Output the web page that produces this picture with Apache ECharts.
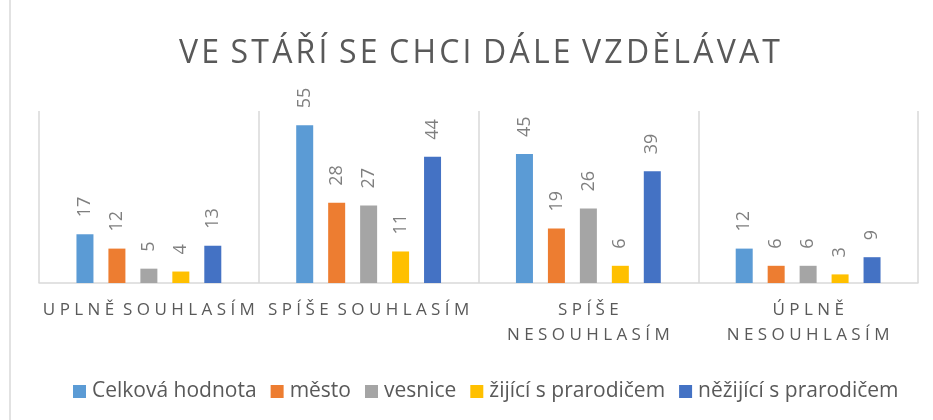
<!DOCTYPE html>
<html>
<head>
<meta charset="utf-8">
<script src="https://cdn.jsdelivr.net/npm/echarts@6/dist/echarts.min.js"></script>
<style>
html,body{margin:0;padding:0;background:#fff;}
#chart{width:933px;height:420px;}
</style>
</head>
<body>
<div id="chart"></div>
<script>
// data
var categories = ['UPLNĚ SOUHLASÍM', 'SPÍŠE SOUHLASÍM', 'SPÍŠE\nNESOUHLASÍM', 'ÚPLNĚ\nNESOUHLASÍM'];
var seriesNames = ['Celková hodnota', 'město', 'vesnice', 'žijící s prarodičem', 'něžijící s prarodičem'];
var celkova = [17, 55, 45, 12];
var mesto = [12, 28, 19, 6];
var vesnice = [5, 27, 26, 6];
var zijici = [4, 11, 6, 3];
var nezijici = [13, 44, 39, 9];
var colors = ['#5B9BD5', '#ED7D31', '#A5A5A5', '#FFC000', '#4472C4'];
var titleText = 'VE STÁŘÍ SE CHCI DÁLE VZDĚLÁVAT';

// roztažení písmen jako v Excelu
function spaced(txt, gap, wordGap){
	return txt.split('\n').map(function(line){
		return line.split(' ').map(function(w){
			return w.split('').join(gap);
		}).join(wordGap);
	}).join('\n');
}

var values = [celkova, mesto, vesnice, zijici, nezijici];
var series = [];
for(var i=0;i<values.length;i++){
	series.push({
		name: seriesNames[i],
		type: 'bar',
		data: values[i],
		barWidth: 17,
		barGap: '88%',
		itemStyle: {color: colors[i]},
		label: {
			show: true,
			position: 'top',
			rotate: 90,
			align: 'left',
			verticalAlign: 'middle',
			distance: 17,
			fontFamily: 'Open Sans',
			fontSize: 18,
			color: '#7f7f7f'
		}
	});
}

var myChart = echarts.init(document.getElementById('chart'));
var option = {
	animation: false,
	textStyle: {fontFamily: 'Open Sans'},
	title: {
		text: spaced(titleText, '\u200A', ' \u200A'),
		left: 174,
		top: 33,
		textStyle: {fontFamily: 'Open Sans', fontSize: 32, fontWeight: 'normal', color: '#595959'}
	},
	legend: {
		data: seriesNames,
		left: 68,
		top: 376,
		icon: 'rect',
		itemWidth: 13,
		itemHeight: 13,
		itemGap: 14,
		textStyle: {fontFamily: 'Open Sans', fontSize: 21, color: '#595959', padding: [0, 0, 0, 1]}
	},
	grid: {left: 39, right: 15, top: 111, bottom: 137},
	xAxis: {
		type: 'category',
		data: categories,
		axisTick: {show: false},
		axisLine: {lineStyle: {color: '#d9d9d9', width: 1.5}},
		splitLine: {show: true, lineStyle: {color: '#d9d9d9', width: 1.5}},
		axisLabel: {
			interval: 0,
			margin: 15,
			fontFamily: 'Open Sans',
			fontSize: 17,
			lineHeight: 25,
			color: '#595959',
			formatter: function(v){ return spaced(v, ' ', '  '); }
		}
	},
	yAxis: {
		type: 'value',
		min: 0,
		max: 60,
		show: false
	},
	graphic: [{
		type: 'line',
		shape: {x1: 10, y1: 0, x2: 10, y2: 420},
		style: {stroke: '#d9d9d9', lineWidth: 1.5}
	}],
	series: series
};
myChart.setOption(option);
</script>
</body>
</html>
